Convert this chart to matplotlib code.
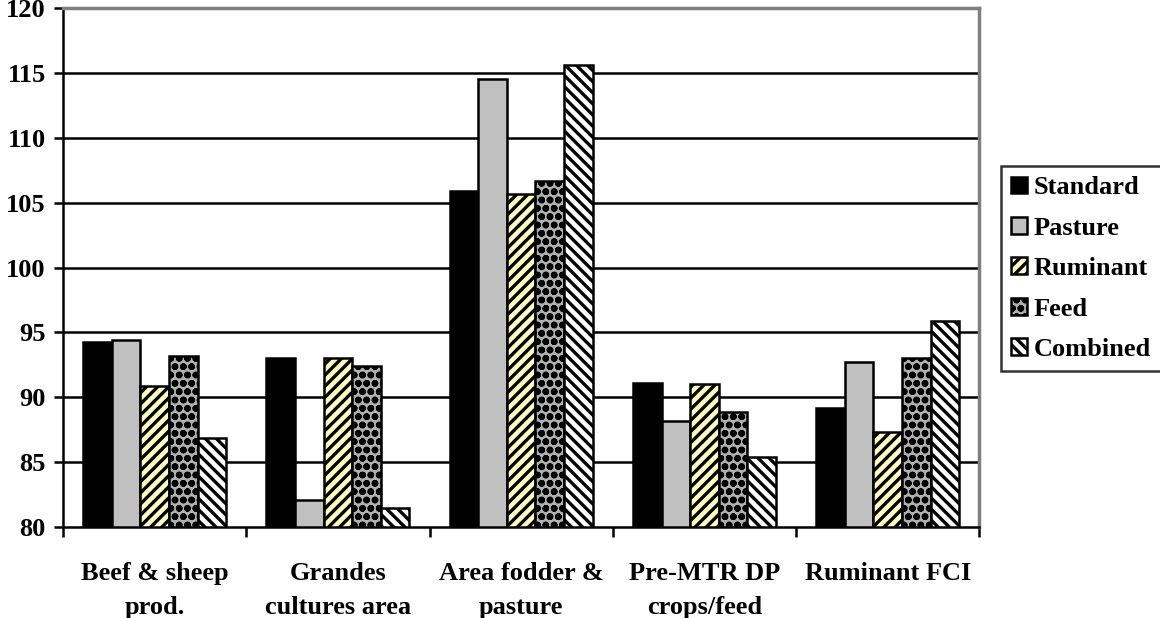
import numpy as np
import matplotlib
matplotlib.use('Agg')
import matplotlib.pyplot as plt

plt.rcParams['font.family'] = ['Liberation Serif', 'DejaVu Serif']
plt.rcParams['font.weight'] = 'bold'
plt.rcParams['hatch.linewidth'] = 2.4

categories = ['Beef & sheep\nprod.', 'Grandes\ncultures area', 'Area fodder &\npasture',
              'Pre-MTR DP\ncrops/feed', 'Ruminant FCI']
series = ['Standard', 'Pasture', 'Ruminant', 'Feed', 'Combined']
standard = [94.3, 93.0, 105.9, 91.1, 89.2]
pasture = [94.4, 82.1, 114.5, 88.2, 92.7]
ruminant = [90.9, 93.0, 105.7, 91.0, 87.3]
feed = [93.2, 92.4, 106.7, 88.9, 93.0]
combined = [86.9, 81.5, 115.6, 85.4, 95.9]
yticks = [80, 85, 90, 95, 100, 105, 110, 115, 120]

values = [standard, pasture, ruminant, feed, combined]
faces = ['black', '#c0c0c0', '#ffffc0', '#b0b0b0', 'white']
hatches = [None, None, '///', 'oo', '\\\\\\']

fig = plt.figure(figsize=(11.6, 6.18), dpi=100)
ax = fig.add_axes([0.0543, 0.147, 0.79, 0.84])

x = np.arange(len(categories))
w = 0.156
for i, (vals, fc, h) in enumerate(zip(values, faces, hatches)):
    ax.bar(x + (i - 2) * w, np.array(vals) - 80, w, bottom=80, color=fc,
           edgecolor='black', linewidth=1.8, hatch=h, label=series[i], zorder=3)

ax.set_ylim(80, 120)
ax.set_xlim(-0.5, len(categories) - 0.5)
ax.set_yticks(yticks)
ax.set_yticklabels([str(t) for t in yticks], fontsize=19, fontweight='bold')
for t in yticks[1:-1]:
    ax.axhline(t, color='black', lw=1.8, zorder=1)

ax.set_xticks(np.arange(len(categories) + 1) - 0.5)
ax.set_xticklabels([])
ax.set_xticks(x, minor=True)
ax.set_xticklabels(categories, minor=True, fontsize=19, fontweight='bold',
                   linespacing=1.6)
ax.tick_params(axis='x', which='minor', length=0, pad=25)
ax.tick_params(axis='x', which='major', length=7, width=1.8, direction='out')
ax.tick_params(axis='y', length=6.5, width=1.8, direction='out', pad=6)

ax.spines['left'].set_linewidth(1.8)
ax.spines['bottom'].set_linewidth(1.8)
ax.spines['top'].set_color('gray')
ax.spines['right'].set_color('gray')
ax.spines['top'].set_linewidth(2.5)
ax.spines['right'].set_linewidth(2.5)

leg = fig.legend(loc='upper left', bbox_to_anchor=(0.863, 0.731), fontsize=19,
                 frameon=True, fancybox=False, edgecolor='black',
                 handlelength=0.6, handleheight=0.6, handletextpad=0.25,
                 labelspacing=0.66, borderpad=0.38, borderaxespad=0)
leg.get_frame().set_linewidth(1.8)

fig.savefig('out.png', dpi=100)
